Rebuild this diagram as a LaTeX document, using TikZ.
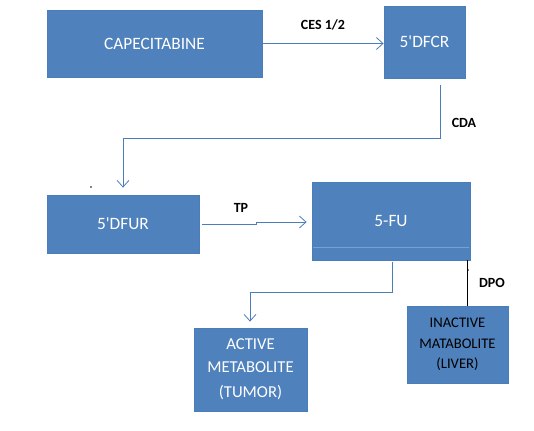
\documentclass[tikz,border=0pt]{standalone}
\usepackage{fontspec}
\setmainfont{Carlito}
\usetikzlibrary{arrows.meta}
\definecolor{boxblue}{HTML}{4F81BD}
\definecolor{boxedge}{HTML}{4A7EBB}
\definecolor{linkblue}{HTML}{4A7EBB}
\tikzset{
  x=0.75pt, y=-0.75pt,
  blk/.style={draw=boxedge, fill=boxblue, line width=0.6pt, text=white, align=center, inner sep=0pt, font=\fontsize{13}{15}\selectfont},
  link/.style={draw=linkblue, line width=0.75pt, -{Straight Barb[length=5pt,width=9pt,line width=0.6pt]}},
  lbl/.style={font=\bfseries\fontsize{10.5}{12}\selectfont, text=black},
}
\begin{document}
\begin{tikzpicture}
\useasboundingbox (0,0) rectangle (534,430);
\node[blk, minimum width=215*0.75pt, minimum height=67*0.75pt] (cap) at (154.5,43.5) {CAPECITABINE};
\node[blk, minimum width=81*0.75pt, minimum height=72*0.75pt] (dfcr) at (424.5,42) {5\textquotesingle DFCR};
\node[blk, minimum width=152*0.75pt, minimum height=58*0.75pt] (dfur) at (123,224) {5\textquotesingle DFUR};
\node[blk, minimum width=158*0.75pt, minimum height=78*0.75pt] (fu) at (391,221) {5-FU};
\node[blk, minimum width=113*0.75pt, minimum height=83*0.75pt, font=\fontsize{12.5}{17}\selectfont] (act) at (250.5,369.5) {ACTIVE\\METABOLITE\\[2pt](TUMOR)};
\node[blk, minimum width=101*0.75pt, minimum height=77*0.75pt, text=black, font=\fontsize{11}{15.5}\selectfont] (inact) at (457.5,344.5) {INACTIVE\\MATABOLITE\\(LIVER)};
\draw[draw=white, draw opacity=0.25, line width=0.5pt] (313,247) -- (469,247);

\coordinate (c1) at (440,138);
\coordinate (c2) at (123,138);
\coordinate (t1) at (256,224);
\coordinate (t2) at (256,222);
\coordinate (a1) at (392,292);
\coordinate (a2) at (250,292);

\draw[link] (cap.east) -- (dfcr.west |- cap.east) node[pos=0.5, above=6pt, lbl] {CES 1/2};
\draw[link] (dfcr.south -| c1) ++(0,7) -- (c1) -- (c2) -- ([yshift=7*0.75pt]dfur.north -| c2);
\draw[link] ([xshift=3*0.75pt]dfur.east) -- (t1) -- (t2) -- ([xshift=-5*0.75pt]fu.west |- t2);
\draw[link] ([yshift=-2*0.75pt]fu.south -| a1) -- (a1) -- (a2) -- ([yshift=6*0.75pt]act.north -| a2);
\draw[black, line width=0.6pt] (fu.south -| 467,0) -- (inact.north -| 467,0);

\node[lbl] (lcda) at (464,123) {CDA};
\node[lbl] (ltp) at (241,208) {TP};
\node[lbl] (ldpo) at (492,283) {DPO};
\fill[black] (468,270) circle (0.9);
\fill[black!80!blue] (91,187) circle (0.9);
\end{tikzpicture}
\end{document}
